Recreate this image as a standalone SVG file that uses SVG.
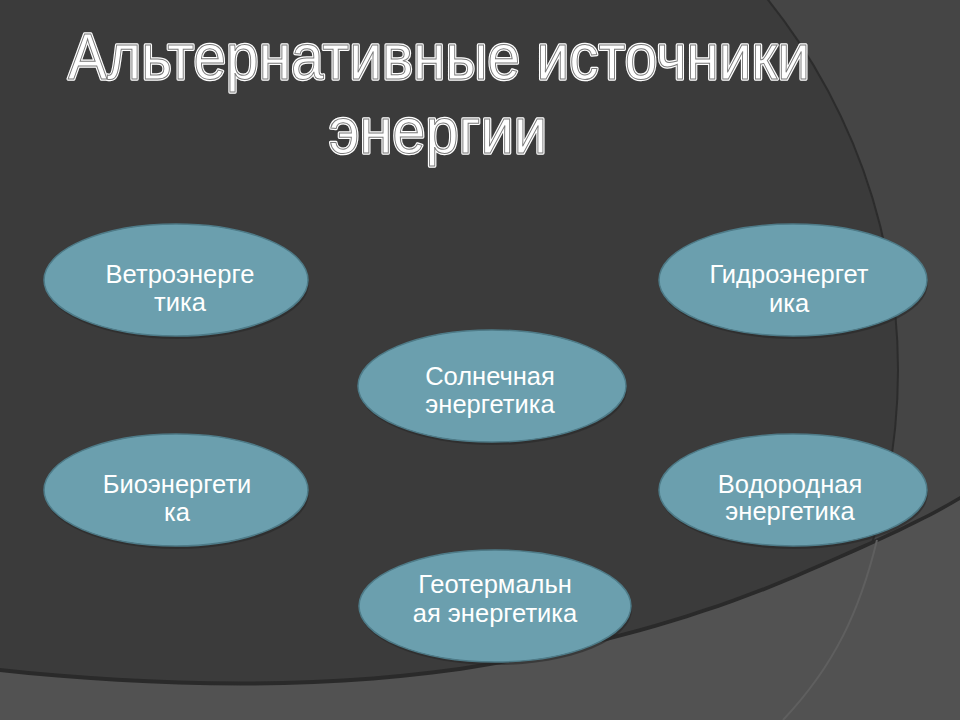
<svg xmlns="http://www.w3.org/2000/svg" width="960" height="720" viewBox="0 0 960 720">
  <defs>
    <style>
      .node ellipse.body { fill: #6b9fae; stroke: #4e7b88; stroke-width: 1.5; }
      .node ellipse.shadow { fill: #262626; opacity: 0.55; }
      .node text { font-family: "Liberation Sans", Arial, sans-serif; font-size: 25.5px; fill: #ffffff; text-anchor: middle; }
      .title { font-family: "Liberation Sans", Arial, sans-serif; font-size: 65px; text-anchor: middle; }
      .title-outer { fill: none; stroke: #ffffff; stroke-width: 3.5; stroke-linejoin: round; }
      .title-inner { fill: #ffffff; stroke: #7a7a7a; stroke-width: 1; }
    </style>
    <clipPath id="clipView"><rect x="0" y="0" width="960" height="720"/></clipPath>
  </defs>

  <!-- background -->
  <g id="background" clip-path="url(#clipView)">
    <rect x="0" y="0" width="960" height="720" fill="#454545"/>
    <circle cx="306" cy="370" r="593" fill="#2c2c2c"/>
    <circle cx="306" cy="370" r="591" fill="#3b3b3b"/>
    <path d="M0,668 C150,684 330,690 490,662 C600,642 700,615 796,574 C870,542 920,520 960,496 L960,720 L0,720 Z" fill="#2a2a2a"/>
    <path d="M0,672 C150,688 330,694 490,666 C600,646 700,619 796,578 C870,546 920,524 960,500 L960,720 L0,720 Z" fill="#525252"/>
    <path d="M877,540 C860,610 835,665 783,720" fill="none" stroke="#5f5f5f" stroke-width="2"/>
  </g>

  <!-- title -->
  <g id="title">
    <text class="title title-outer" x="439" y="79" textLength="742" lengthAdjust="spacingAndGlyphs">Альтернативные источники</text>
    <text class="title title-inner" x="439" y="79" textLength="742" lengthAdjust="spacingAndGlyphs">Альтернативные источники</text>
    <text class="title title-outer" x="438" y="153" textLength="218" lengthAdjust="spacingAndGlyphs">энергии</text>
    <text class="title title-inner" x="438" y="153" textLength="218" lengthAdjust="spacingAndGlyphs">энергии</text>
  </g>

  <g id="connectors"></g>

  <g id="node-wind" class="node">
    <ellipse class="shadow" cx="177" cy="283" rx="132" ry="56"/>
    <ellipse class="body" cx="176" cy="280" rx="132" ry="56"/>
    <text x="180" y="283">Ветроэнерге</text>
    <text x="180" y="311">тика</text>
  </g>

  <g id="node-hydro" class="node">
    <ellipse class="shadow" cx="794" cy="283" rx="134" ry="56"/>
    <ellipse class="body" cx="793" cy="280" rx="134" ry="56"/>
    <text x="789" y="283">Гидроэнергет</text>
    <text x="789" y="312">ика</text>
  </g>

  <g id="node-solar" class="node">
    <ellipse class="shadow" cx="493" cy="389" rx="134" ry="56"/>
    <ellipse class="body" cx="492" cy="386" rx="134" ry="56"/>
    <text x="490" y="385">Солнечная</text>
    <text x="490" y="413">энергетика</text>
  </g>

  <g id="node-bio" class="node">
    <ellipse class="shadow" cx="177" cy="493" rx="132" ry="56"/>
    <ellipse class="body" cx="176" cy="490" rx="132" ry="56"/>
    <text x="177" y="493">Биоэнергети</text>
    <text x="177" y="521">ка</text>
  </g>

  <g id="node-hydrogen" class="node">
    <ellipse class="shadow" cx="794" cy="493" rx="134" ry="56"/>
    <ellipse class="body" cx="793" cy="490" rx="134" ry="56"/>
    <text x="790" y="493">Водородная</text>
    <text x="790" y="520">энергетика</text>
  </g>

  <g id="node-geo" class="node">
    <ellipse class="shadow" cx="496" cy="609" rx="136" ry="56"/>
    <ellipse class="body" cx="495" cy="606" rx="136" ry="56"/>
    <text x="495" y="593">Геотермальн</text>
    <text x="495" y="622">ая энергетика</text>
  </g>
</svg>
